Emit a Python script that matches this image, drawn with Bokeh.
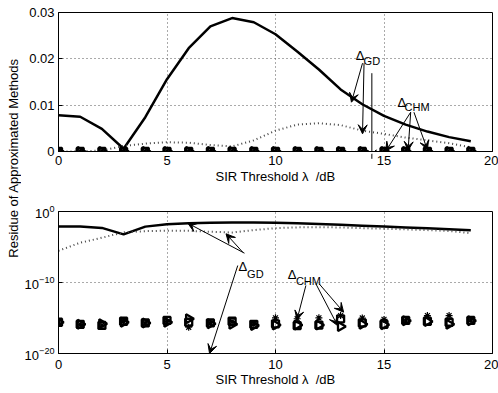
import math
from bokeh.plotting import figure
from bokeh.models import (Range1d, FixedTicker, Arrow, VeeHead, Label, CustomJSTickFormatter)
from bokeh.layouts import row, column
from bokeh.embed import file_html
from bokeh.resources import INLINE

# ---------------- data ----------------
sir_db = [0, 1, 2, 3, 4, 5, 6, 7, 8, 9, 10, 11, 12, 13, 14, 15, 16, 17, 18, 19]
residue_solid = [0.0078, 0.0075, 0.0049, 0.0006, 0.0074, 0.0156, 0.0223, 0.0270, 0.0288, 0.0279,
                 0.0253, 0.0216, 0.0177, 0.0134, 0.0102, 0.0077, 0.0058, 0.0043, 0.0031, 0.0022]
residue_dotted = [3e-6, 4e-5, 2e-4, 0.0012, 0.0017, 0.0020, 0.0019, 0.0014, 0.0011, 0.0024,
                  0.0045, 0.0058, 0.0061, 0.0057, 0.0045, 0.0038, 0.0030, 0.0024, 0.0018, 0.0009]
chm_square = [2.5e-16, 1.3e-16, 9e-17, 3.5e-16, 2e-16, 4.5e-16, 2.5e-16, 2e-16, 3.5e-16, 1.3e-16,
              1.5e-16, 8.7e-17, 1e-16, 7.6e-16, 2e-16, 1.3e-16, 4.5e-16, 3.5e-16, 2.5e-16, 4.5e-16]
chm_triangle = [2.5e-16, 1.3e-16, 1.6e-16, 2.5e-16, 2e-16, 2.5e-16, 7.6e-16, 1.5e-16, 1.3e-16, 8.7e-17,
                1e-16, 1e-16, 1e-16, 6.3e-17, 1.3e-16, 1.1e-16, 4e-16, 3.2e-16, 1.3e-16, 4e-16]
chm_star = [2.5e-16, 1.3e-16, 1e-16, 3.2e-16, 2e-16, 3.2e-16, 5e-17, 2e-16, 3.2e-16, 1.3e-16,
            1.05e-15, 7.9e-16, 1.05e-15, 2.2e-15, 1e-15, 6.3e-16, 4e-16, 2.2e-15, 2.2e-15, 5e-16]

x_ticks = [0, 5, 10, 15, 20]
top_y_ticks = [0, 0.01, 0.02, 0.03]
bot_y_ticks = [1e-20, 1e-10, 1]

# annotation positions (x_start, y_start, x_end, y_end)
top_gd_arrows = [(14.01, 0.01906, 13.50, 0.01064), (14.08, 0.01906, 14.01, 0.00382),
                 (14.44, 0.0169, 14.44, -0.00158)]
top_chm_arrows = [(16.23, 0.00848, 15.08, 0.00006), (16.23, 0.00848, 16.11, 0.0002),
                  (16.38, 0.00848, 17.0, 0.00037)]
top_gd_text = (13.70, 0.0207, 14.06, 0.0195)
top_chm_text = (15.62, 0.01064, 15.95, 0.00956)

bot_gd_arrows = [(8.57, 10**-5.87, 5.96, 10**-1.65), (8.49, 10**-5.73, 7.72, 10**-3.14),
                 (8.26, 10**-7.61, 6.96, 10**-20.0)]
bot_chm_arrows = [(11.40, 10**-10.42, 10.99, 10**-15.25), (11.86, 10**-10.18, 12.86, 10**-16.06),
                  (12.01, 10**-10.18, 13.14, 10**-14.18)]
bot_gd_text = (8.29, 10**-7.75, 8.69, 10**-8.87)
bot_chm_text = (10.56, 10**-8.87, 10.94, 10**-9.82)

FONT = "Liberation Sans"
FS = "13px"
XLABEL = "SIR Threshold λ\u00a0 /dB"


def base_style(p):
    p.outline_line_color = "black"
    p.outline_line_width = 1
    for ax in p.xaxis + p.yaxis:
        ax.major_label_text_font = FONT
        ax.major_label_text_font_size = FS
        ax.major_label_text_color = "black"
        ax.axis_label_text_font = FONT
        ax.axis_label_text_font_size = FS
        ax.axis_label_text_font_style = "normal"
        ax.axis_label_text_color = "black"
        ax.major_tick_in = 4
        ax.major_tick_out = 0
        ax.minor_tick_line_color = None
        ax.axis_line_color = "black"
        ax.major_tick_line_color = "black"
    p.yaxis.major_label_standoff = 4
    for g in p.xgrid + p.ygrid:
        g.grid_line_color = "#555555"
        g.grid_line_dash = "1 3"
        g.grid_line_width = 1


def add_annot(p, arrows_list, texts):
    for (xs, ys, xe, ye) in arrows_list:
        p.add_layout(Arrow(x_start=xs, y_start=ys, x_end=xe, y_end=ye,
                           line_color="black", line_width=1,
                           end=VeeHead(size=9, fill_color="black", line_color="black", line_width=1)))
    for (xd, yd, xs, ys), sub in texts:
        p.add_layout(Label(x=xd, y=yd, text="Δ", text_font=FONT, text_font_size="13px",
                           text_baseline="alphabetic", text_align="left", text_color="black"))
        p.add_layout(Label(x=xs, y=ys, text=sub, text_font=FONT, text_font_size="11px",
                           text_baseline="alphabetic", text_align="left", text_color="black"))


def draw_series(p):
    p.line(sir_db, residue_solid, line_color="black", line_width=2.5)
    p.line(sir_db, residue_dotted, line_color="#444444", line_width=2, line_dash="1 3")
    p.scatter(sir_db, chm_square, marker="square", size=7, line_width=2.3,
              line_color="black", fill_color=None)
    p.scatter(sir_db, chm_triangle, marker="triangle", size=9, angle=-math.pi / 2,
              line_width=2.3, line_color="black", fill_color=None)
    p.scatter(sir_db, chm_star, marker="asterisk", size=7, line_width=1.2, line_color="black")


# ---------------- top plot ----------------
p1 = figure(width=477, height=190, x_range=Range1d(0, 20), y_range=Range1d(0, 0.03),
            output_backend="svg", toolbar_location=None,
            min_border_left=36, min_border_right=6, min_border_top=12, min_border_bottom=39)
p1.xaxis.ticker = FixedTicker(ticks=x_ticks)
p1.yaxis.ticker = FixedTicker(ticks=top_y_ticks)
p1.yaxis.formatter = CustomJSTickFormatter(code="return tick == 0 ? '0' : tick.toFixed(2);")
p1.xgrid.ticker = FixedTicker(ticks=x_ticks)
p1.ygrid.ticker = FixedTicker(ticks=top_y_ticks)
p1.xaxis.axis_label = XLABEL
base_style(p1)
p1.xaxis.major_label_standoff = 4
p1.xaxis.axis_label_standoff = 1
draw_series(p1)
add_annot(p1, top_gd_arrows + top_chm_arrows,
          [(top_gd_text, "GD"), (top_chm_text, "CHM")])

# ---------------- bottom plot ----------------
p2 = figure(width=477, height=203, x_range=Range1d(0, 20), y_range=Range1d(1e-20, 1),
            y_axis_type="log", output_backend="svg", toolbar_location=None,
            min_border_left=36, min_border_right=6, min_border_top=21, min_border_bottom=40)
p2.xaxis.ticker = FixedTicker(ticks=x_ticks)
p2.yaxis.ticker = FixedTicker(ticks=bot_y_ticks)
p2.xgrid.ticker = FixedTicker(ticks=x_ticks)
p2.ygrid.ticker = FixedTicker(ticks=bot_y_ticks)
p2.xaxis.axis_label = XLABEL
base_style(p2)
p2.xaxis.major_label_standoff = 6
p2.xaxis.axis_label_standoff = 0
draw_series(p2)
add_annot(p2, bot_gd_arrows + bot_chm_arrows,
          [(bot_gd_text, "GD"), (bot_chm_text, "CHM")])

# ---------------- shared y label ----------------
lab = figure(width=21, height=393, x_range=Range1d(0, 21), y_range=Range1d(0, 393),
             output_backend="svg", toolbar_location=None, min_border=0,
             x_axis_location=None, y_axis_location=None)
lab.outline_line_color = None
lab.xgrid.visible = False
lab.ygrid.visible = False
lab.add_layout(Label(x=13, y=235.5, text="Residue of Approximated Methods", angle=math.pi / 2,
                     text_font=FONT, text_font_size=FS, text_align="center",
                     text_baseline="middle", text_color="black"))

layout = row(lab, column(p1, p2))
open("out.html", "w").write(file_html(layout, INLINE))
